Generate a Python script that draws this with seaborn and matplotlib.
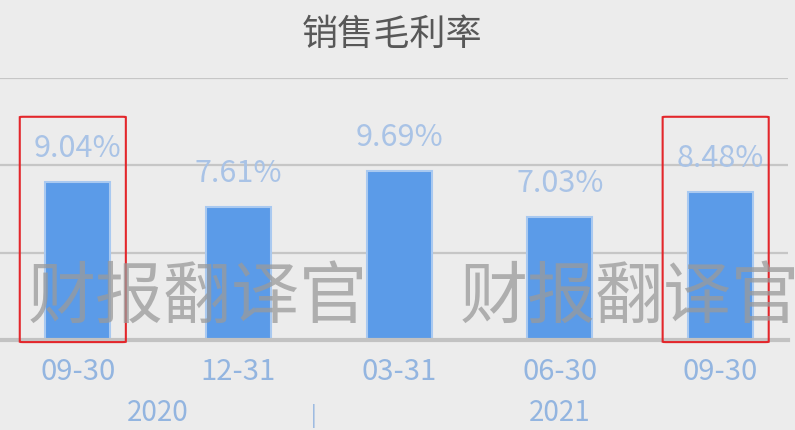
import matplotlib
matplotlib.use("Agg")
import matplotlib.pyplot as plt
import seaborn as sns
import pandas as pd
from matplotlib.patches import FancyBboxPatch

# ---- data ----
periods = ["2020-09-30", "2020-12-31", "2021-03-31", "2021-06-30", "2021-09-30"]
tick_labels = ["09-30", "12-31", "03-31", "06-30", "09-30"]
margins = [9.04, 7.61, 9.69, 7.03, 8.48]
years = ["2020", "2021"]
year_groups = [[0, 1], [2, 3, 4]]
highlighted = [0, 4]
title = "销售毛利率"
watermark = "财报翻译官"

sns.set_theme(style="white")
plt.rcParams["font.family"] = ["Noto Sans CJK SC", "DejaVu Sans"]

BG = "#ececec"
BAR = "#5b9be8"
BAR_EDGE = "#a9c9f0"
LABEL = "#a9c3e6"
TICK = "#93b5e0"

df = pd.DataFrame({"period": periods, "margin": margins})

fig = plt.figure(figsize=(7.95, 4.30), dpi=100, facecolor=BG)
ax = fig.add_axes([0.0, 0.2093, 788 / 795, 0.6093])
ax.set_facecolor(BG)

sns.barplot(data=df, x="period", y="margin", color=BAR, width=0.405,
            edgecolor=BAR_EDGE, linewidth=1.5, saturation=1, ax=ax, zorder=3)

ax.set_ylim(0, 15)
ax.set_xlim(-0.483, 4.42)
ax.set_yticks([5, 10, 15])
ax.yaxis.grid(True, color="#c6c6c6", linewidth=1.6, zorder=0)
ax.set_axisbelow(True)
for s in ["top", "right", "left"]:
    ax.spines[s].set_visible(False)
ax.spines["bottom"].set_color("#c2c2c2")
ax.spines["bottom"].set_linewidth(3)
ax.spines["bottom"].set_zorder(4)
ax.tick_params(axis="y", left=False, labelleft=False)
ax.tick_params(axis="x", bottom=False, pad=6)
ax.set_xticks(range(len(periods)))
ax.set_xticklabels(tick_labels, color=TICK, fontsize=21)
ax.set_xlabel("")
ax.set_ylabel("")

# value labels
for i, v in enumerate(margins):
    ax.annotate(f"{v:.2f}%", (i, v), xytext=(0, 13), textcoords="offset points",
                ha="center", va="bottom", color=LABEL, fontsize=22, zorder=5)

# year labels and separator
for name, grp in zip(years, year_groups):
    xc = sum(grp) / len(grp)
    ax.text(xc, -0.278, name, transform=ax.get_xaxis_transform(),
            ha="center", va="center", color=TICK, fontsize=20)
sep = (year_groups[0][-1] + year_groups[1][0]) / 2
ax.text(sep - 0.03, -0.29, "|", transform=ax.get_xaxis_transform(),
        ha="center", va="center", color=TICK, fontsize=15)

# highlight boxes
for i in highlighted:
    r = FancyBboxPatch((i - 0.36, -0.12), 0.66, 12.9,
                       boxstyle="round,pad=0,rounding_size=0.02",
                       fill=False, edgecolor="#e3262b",
                       linewidth=1.5, clip_on=False, zorder=6)
    ax.add_patch(r)

# title
fig.text(392 / 795, 1 - 35 / 430, title, ha="center", va="center",
         color="#585858", fontsize=26)

# watermarks
for x0 in [28, 460]:
    fig.text(x0 / 795, 1 - 299 / 430, watermark, ha="left", va="center",
             color="#9a9a9a", alpha=0.75, fontsize=49, zorder=10)

fig.savefig("out.png", dpi=100, facecolor=BG)
